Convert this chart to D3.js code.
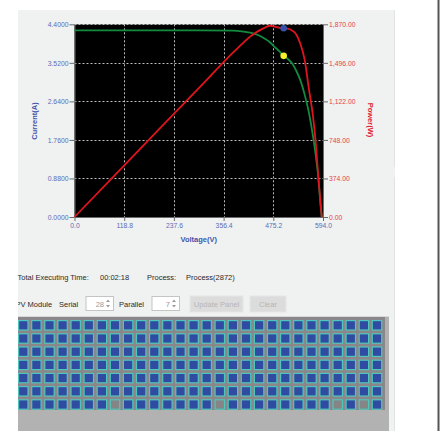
<!DOCTYPE html>
<html><head><meta charset="utf-8">
<script src="https://cdn.jsdelivr.net/npm/d3@7"></script>
<style>
html,body{margin:0;padding:0;background:#fff;}
svg{display:block;font-family:"Liberation Sans",Arial,sans-serif;}
</style></head>
<body>
<svg id="c" width="444" height="431"></svg>
<script>
// ---- data ----
const voltage = [0, 100, 200, 300, 380, 400, 420, 440, 455, 467, 480, 490, 500, 510, 520, 530, 540, 550, 560, 570, 576, 583, 587, 591];
const current = [4.26, 4.26, 4.26, 4.26, 4.255, 4.24, 4.21, 4.15, 4.07, 3.99, 3.87, 3.78, 3.68, 3.61, 3.51, 3.34, 3.12, 2.80, 2.40, 1.85, 1.45, 0.89, 0.40, 0];
const power   = [0, 421, 842, 1263, 1600, 1678, 1750, 1806, 1838, 1856, 1846, 1836, 1832, 1828, 1810, 1772, 1680, 1530, 1250, 980, 750, 380, 190, 0];
const mppVoltage = [500];
const mppCurrent = [3.68];
const mppPower = [1831];
const xTicks = [0, 118.8, 237.6, 356.4, 475.2, 594.0];
const yTicksI = [0, 0.88, 1.76, 2.64, 3.52, 4.4];
const yTicksP = [0, 374, 748, 1122, 1496, 1870];
const serialCount = [28];
const parallelCount = [7];
const shadedCells = [[6, 7], [6, 15], [6, 24], [6, 26]];
const infoLabels = ["Total Executing Time:", "00:02:18", "Process:", "Process(2872)"];

const svg = d3.select("#c");
const FONT = "'Liberation Sans',Arial,sans-serif";

// ---- background panels ----
svg.append("rect").attr("x",18).attr("y",10).attr("width",377).attr("height",421).attr("fill","#f0f1f1");
svg.append("line").attr("x1",394.5).attr("x2",394.5).attr("y1",10).attr("y2",167).attr("stroke","#e2e3e3");
svg.append("line").attr("x1",394.5).attr("x2",394.5).attr("y1",177).attr("y2",431).attr("stroke","#e2e3e3");
svg.append("rect").attr("x",437.5).attr("y",0).attr("width",2).attr("height",431).attr("fill","#555");

// ---- chart ----
const x = d3.scaleLinear().domain([0, 594]).range([74.5, 323]);
const yI = d3.scaleLinear().domain([0, 4.4]).range([217, 24.3]);
const yP = d3.scaleLinear().domain([0, 1870]).range([217, 24.3]);

svg.append("rect").attr("x",x(0)).attr("y",yI(4.4)).attr("width",x(594)-x(0)).attr("height",yI(0)-yI(4.4)).attr("fill","#000");

const grid = svg.append("g");
grid.selectAll("line.v").data(xTicks.slice(1, -1)).join("line")
  .attr("x1",d=>Math.round(x(d))+0.5).attr("x2",d=>Math.round(x(d))+0.5)
  .attr("y1",yI(4.4)).attr("y2",yI(0))
  .attr("stroke","#bdbdbd").attr("stroke-dasharray","2,2");
grid.selectAll("line.h").data(yTicksI.slice(1)).join("line")
  .attr("x1",x(0)).attr("x2",x(594))
  .attr("y1",d=>Math.round(yI(d))+0.5).attr("y2",d=>Math.round(yI(d))+0.5)
  .attr("stroke","#bdbdbd").attr("stroke-dasharray","2,2");

function styleAxis(g, color){
  g.selectAll(".domain").attr("stroke","#6a6a6a");
  g.selectAll(".tick line").attr("stroke","#6a6a6a");
  g.selectAll(".tick text").attr("fill",color).attr("font-size","6.8px").attr("font-family",FONT);
}
const gx = svg.append("g").attr("transform",`translate(0,${yI(0)})`)
  .call(d3.axisBottom(x).tickValues(xTicks).tickFormat(d3.format(".1f")).tickSize(4).tickSizeOuter(0).tickPadding(2));
styleAxis(gx, "#5b6db5");
const gl = svg.append("g").attr("transform",`translate(${x(0)},0)`)
  .call(d3.axisLeft(yI).tickValues(yTicksI).tickFormat(d3.format(".4f")).tickSize(5).tickSizeOuter(0).tickPadding(1));
styleAxis(gl, "#5b6db5");
const gr = svg.append("g").attr("transform",`translate(${x(594)},0)`)
  .call(d3.axisRight(yP).tickValues(yTicksP).tickFormat(d3.format(",.2f")).tickSize(5).tickSizeOuter(0).tickPadding(1));
styleAxis(gr, "#e8424c");

const data = voltage.map((v,i)=>({v, i:current[i], p:power[i]}));
svg.append("path").datum(data)
  .attr("d", d3.line().x(d=>x(d.v)).y(d=>yI(d.i)).curve(d3.curveMonotoneX))
  .attr("fill","none").attr("stroke","#138a3e").attr("stroke-width",1.8);
svg.append("path").datum(data)
  .attr("d", d3.line().x(d=>x(d.v)).y(d=>yP(d.p)).curve(d3.curveMonotoneX))
  .attr("fill","none").attr("stroke","#e0141e").attr("stroke-width",1.8);

svg.selectAll("circle.p").data(mppVoltage).join("circle")
  .attr("cx",d=>x(d)).attr("cy",(d,i)=>yP(mppPower[i])).attr("r",3.3).attr("fill","#3550a8");
svg.selectAll("circle.i").data(mppVoltage).join("circle")
  .attr("cx",d=>x(d)).attr("cy",(d,i)=>yI(mppCurrent[i])).attr("r",3.3).attr("fill","#f4f02a");

// axis titles
svg.append("text").attr("transform",`translate(37,121) rotate(-90)`).attr("text-anchor","middle")
  .attr("font-size","7.5px").attr("font-weight","bold").attr("fill","#3f55aa").text("Current(A)");
svg.append("text").attr("transform",`translate(368,120) rotate(90)`).attr("text-anchor","middle")
  .attr("font-size","7.5px").attr("font-weight","bold").attr("fill","#e0202c").text("Power(W)");
svg.append("text").attr("x",(x(0)+x(594))/2).attr("y",242).attr("text-anchor","middle")
  .attr("font-size","7.5px").attr("font-weight","bold").attr("fill","#3f55aa").text("Voltage(V)");

// ---- info row ----
const infoX = [17.5, 100, 147, 186];
svg.selectAll("text.info").data(infoLabels).join("text")
  .attr("x",(d,i)=>infoX[i]).attr("y",280).attr("font-size","7.5px").attr("fill","#2a2a2a").text(d=>d);

// ---- controls row ----
svg.append("clipPath").attr("id","clipL").append("rect").attr("x",18).attr("y",0).attr("width",377).attr("height",431);
const ctl = svg.append("g").attr("clip-path","url(#clipL)");
ctl.append("text").attr("x",15.5).attr("y",306.5).attr("font-size","7.5px").attr("fill","#2a2a2a").text("PV Module");
ctl.append("text").attr("x",59).attr("y",306.5).attr("font-size","7.5px").attr("fill","#2a2a2a").text("Serial");
ctl.append("text").attr("x",119).attr("y",306.5).attr("font-size","7.5px").attr("fill","#2a2a2a").text("Parallel");

function spinner(x0, w, val){
  ctl.append("rect").attr("x",x0+0.5).attr("y",296.5).attr("width",w).attr("height",14).attr("fill","#fff").attr("stroke","#c4c4c4");
  ctl.append("text").attr("x",x0+w-9).attr("y",306.5).attr("text-anchor","end").attr("font-size","7.5px").attr("fill","#9a9a9a").text(val);
  const ax = x0+w-5;
  ctl.append("path").attr("d",`M${ax-2},302 L${ax+2},302 L${ax},299.5 Z`).attr("fill","#9a9a9a");
  ctl.append("path").attr("d",`M${ax-2},305 L${ax+2},305 L${ax},307.5 Z`).attr("fill","#9a9a9a");
}
spinner(85.5, 27.5, serialCount[0]);
spinner(151.5, 27.5, parallelCount[0]);

function button(x0, w, label){
  ctl.append("rect").attr("x",x0).attr("y",296).attr("width",w).attr("height",16).attr("fill","#dcdcdc").attr("stroke","#e6e6e6");
  ctl.append("text").attr("x",x0+w/2).attr("y",306.5).attr("text-anchor","middle").attr("font-size","7.5px").attr("fill","#b6b6b6").text(label);
}
button(190, 53, "Update Panel");
button(250, 36, "Clear");

// ---- module grid ----
svg.append("rect").attr("x",18).attr("y",316.5).attr("width",371).attr("height",114.5).attr("fill","#b2b2b2");
svg.append("line").attr("x1",18).attr("x2",389).attr("y1",316.5).attr("y2",316.5).attr("stroke","#d8d8d8");
svg.append("clipPath").attr("id","clipG").append("rect").attr("x",18).attr("y",317).attr("width",367).attr("height",94);
const gg = svg.append("g").attr("clip-path","url(#clipG)");
gg.append("rect").attr("x",18).attr("y",317).attr("width",367).attr("height",93).attr("fill","#8b8689");

const cols = d3.range(serialCount[0]), rows = d3.range(parallelCount[0]);
const cx = d3.scaleBand().domain(cols).range([16.75, 16.75 + 13.1*serialCount[0]]);
const cy = d3.scaleBand().domain(rows).range([318.7, 318.7 + 13.2*parallelCount[0]]);
const cells = [];
rows.forEach(r=>cols.forEach(c=>cells.push({r,c, off: shadedCells.some(s=>s[0]===r && s[1]===c)})));
gg.selectAll("rect.t").data(cells).join("rect")
  .attr("x",d=>cx(d.c)+cx.bandwidth()/2-5.3).attr("y",d=>cy(d.r)+cy.bandwidth()/2-5.3)
  .attr("width",10.6).attr("height",10.6).attr("fill","#4fc6bb");
gg.selectAll("rect.b").data(cells).join("rect")
  .attr("x",d=>cx(d.c)+cx.bandwidth()/2-4.1).attr("y",d=>cy(d.r)+cy.bandwidth()/2-4.1)
  .attr("width",8.2).attr("height",8.2).attr("fill",d=>d.off?"#858585":"#2f4ca2");
</script>
</body></html>
